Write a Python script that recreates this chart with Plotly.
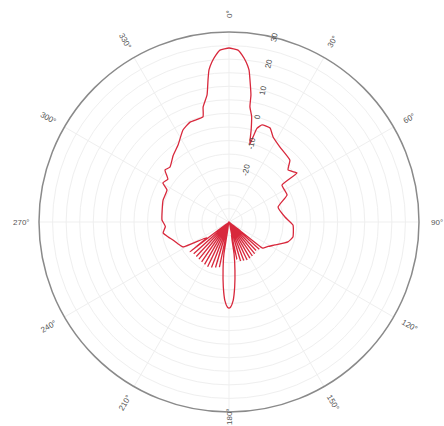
import math
import plotly.graph_objects as go

# Radiation pattern: azimuth (deg, clockwise from north) and gain (dB)
theta_deg = [
    0, 3, 4.5, 6.1, 7.5, 8.4, 9.8, 10.3, 12, 13.5, 15, 16.6, 18.8, 23.6, 27.4, 34.2, 44.5,
    48.6, 54.2, 55.1, 65, 73, 84.9, 92.7, 103.2, 108.7, 116.6, 122, 127.4,
    128, 130, 132, 134.5, 136.5, 139, 141, 143.5, 145.5, 148, 150, 152.5,
    154.5, 157, 159, 161.5, 163.5, 166, 168, 170,
    171, 173, 175, 177, 179, 180, 181, 183, 185, 187, 189,
    190, 192, 194.5, 196.5, 199, 201, 203.5, 205.5, 208, 210, 212.5, 214.5,
    217, 219, 221.5, 223.5, 226, 228, 230.5, 232.5, 235,
    241.5, 247, 252.2, 256, 260.5, 266, 271.7, 280, 288.4, 297.3, 300.6,
    305, 309.1, 312.9, 320, 326.5, 333.4, 338.7, 346.1, 347.3, 350.2, 351.6,
    352.5, 353.9, 355.5, 357, 360,
]
gain_db = [
    24.1, 23.4, 21.7, 19.3, 16.5, 12.9, 7.5, 3.1, 0.0, -5.0, -10.5, -4.0, -2.2, -2.2, -4.7, -6.6, -8.0,
    -11.0, -9.1, -16.2, -16.4, -21.1, -19.3, -16.4, -15.8, -17.1, -21.1, -23.0, -24.2,
    -24.5, -40, -25.0, -40, -25.5, -40, -25.0, -40, -24.8, -40, -24.6, -40,
    -24.5, -40, -24.8, -40, -25.0, -40, -26.0, -35,
    -28, -22, -16, -11, -8.6, -8.3, -8.6, -11, -16, -22, -28,
    -40, -23.0, -40, -22.5, -40, -22.0, -40, -21.7, -40, -22.0, -40, -22.2,
    -40, -22.4, -40, -22.5, -40, -22.5, -40, -22.0, -30,
    -20.7, -19.5, -18.3, -17.0, -15.4, -16.5, -15.3, -15.0, -14.4, -14.3, -11.7,
    -12.5, -9.6, -10.3, -8.0, -6.0, -2.1, -0.5, -0.1, 3.4, 7.5, 12.9,
    16.5, 19.3, 21.7, 23.4, 24.1,
]

# Radial scale (dB)
r_min, r_max = -40, 30
r_ticks = list(range(-35, 31, 5))
r_labels = [str(v) if (v % 10 == 0 and v >= -20) else "" for v in r_ticks]

# Angular labels
ang_ticks = list(range(0, 360, 30))
ang_labels = [f"{a}°" for a in ang_ticks]

W, H = 444, 426
cx, cy, R = 229, 222, 190

fig = go.Figure()
fig.add_trace(go.Scatterpolar(
    theta=theta_deg,
    r=gain_db,
    mode="lines",
    line=dict(color="#d8283c", width=1.3, shape="spline", smoothing=0.4),
    hoverinfo="skip",
    showlegend=False,
))

# Angular labels, placed just outside the outer ring and oriented radially
annotations = []
for a, txt in zip(ang_ticks, ang_labels):
    rad = math.radians(a)
    px = cx + (R + 18) * math.sin(rad)
    py = min(cy - (R + 18) * math.cos(rad), H - 9)
    rot = ((a - 90 + 90) % 180) - 90
    annotations.append(dict(
        x=px / W, y=1 - py / H, xref="paper", yref="paper",
        text=txt, showarrow=False, textangle=rot,
        font=dict(size=8, color="#555", family="Liberation Sans"),
        xanchor="center", yanchor="middle",
    ))

fig.update_layout(
    width=W, height=H,
    margin=dict(l=0, r=0, t=0, b=0),
    paper_bgcolor="white",
    plot_bgcolor="white",
    annotations=annotations,
    polar=dict(
        domain=dict(x=[(cx - R) / W, (cx + R) / W], y=[1 - (cy + R) / H, 1 - (cy - R) / H]),
        bgcolor="white",
        angularaxis=dict(
            rotation=90, direction="clockwise",
            tickvals=ang_ticks, ticktext=["" for _ in ang_ticks],
            showticklabels=False, ticks="",
            gridcolor="#efefef", gridwidth=1,
            linecolor="#8a8a8a", linewidth=1.5,
        ),
        radialaxis=dict(
            range=[r_min, r_max], angle=78,
            tickvals=r_ticks, ticktext=r_labels,
            tickfont=dict(size=8, color="#444", family="Liberation Sans"),
            ticks="", showline=False,
            gridcolor="#efefef", gridwidth=1,
        ),
    ),
)

fig.write_html("out.html")
